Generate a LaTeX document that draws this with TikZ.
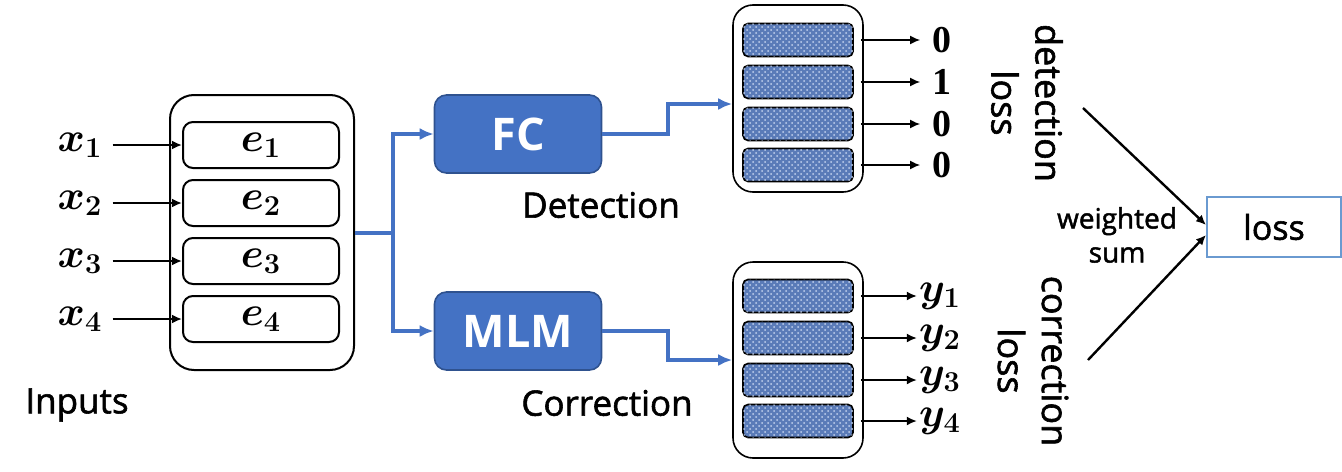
\documentclass[tikz,border=0pt]{standalone}
\usepackage[no-math]{fontspec}
\setmainfont{Open Sans}
\newfontfamily\labelfont{Open Sans}[FakeBold=1.6]
\newfontfamily\bitfont{Liberation Serif}
\usepackage{bm}
\usepackage{tikz}
\usetikzlibrary{calc}
\usetikzlibrary{arrows}
\usetikzlibrary{arrows.meta}
\usetikzlibrary{patterns}
\usepackage{xcolor}
\definecolor{fcblue}{HTML}{4472C4}
\definecolor{fcedge}{HTML}{2F528F}
\definecolor{lossedge}{HTML}{6A9AD0}
\definecolor{cellblue}{HTML}{5A7BB8}
\definecolor{cellpale}{HTML}{C2D2EE}

\begin{document}
\begin{tikzpicture}[x=0.5pt, y=-0.5pt]
  \useasboundingbox (0,0) rectangle (1342,471);

  \tikzstyle{plain} = [font=\fontsize{17.5}{21}\selectfont\labelfont]
  \tikzstyle{mathlabel} = [font=\fontsize{20}{24}\selectfont, inner sep=1pt]
  \tikzstyle{bitlabel} = [font=\fontsize{19}{22}\selectfont\bitfont\bfseries, inner sep=6pt]
  \tikzstyle{outer} = [draw, line width=1pt, rounded corners=12pt]
  \tikzstyle{embed} = [draw, line width=1pt, rounded corners=5pt,
  minimum width=78pt, minimum height=23pt,
  font=\fontsize{20}{24}\selectfont]
  \tikzstyle{cell} = [draw, line width=0.8pt, rounded corners=2.5pt,
  minimum width=55pt, minimum height=16.5pt,
  fill=cellblue, postaction={pattern=crosshatch dots, pattern color=cellpale}]
  \tikzstyle{head} = [draw=fcedge, line width=0.8pt, fill=fcblue, rounded corners=6pt,
  minimum width=83.5pt, minimum height=39pt, text=white,
  font=\fontsize{22.5}{27}\selectfont\bfseries] % FC and MLM
  \tikzstyle{blueline} = [draw=fcblue, line width=2pt]
  \tikzstyle{bluetip} = [-{Latex[length=7pt,width=6pt]}]
  \tikzstyle{blacktip} = [-{Latex[length=5pt,width=4.5pt]}]

% inputs and embeddings
\node[outer, minimum width=92pt, minimum height=137.5pt] (embbox) at (262,232.5) {};
\foreach \i/\yy in {1/145,2/203,3/261,4/319} {
  \node[mathlabel] (x\i) at (80,\yy) {$\bm{x_{\i}}$};
  \node[embed] (e\i) at (261,\yy) {$\bm{e_{\i}}$};
  \draw[blacktip, line width=1pt] ([xshift=4pt]x\i.east) -- (e\i.west);
}
\node[plain] (inputs) at (77,405) {Inputs};

% the two heads
\node[head] (fc) at (518,134) {FC};
\node[head] (mlm) at (518,331) {MLM};
\node[plain] (detlabel) at (601,205) {Detection};
\node[plain] (corlabel) at (607,403) {Correction};

\coordinate (split) at (393,232.5);
\draw[blueline] (embbox.east) -- (split);
\draw[blueline, bluetip] (split) |- (fc.west);
\draw[blueline, bluetip] (split) |- (mlm.west);

% output stacks
\node[outer, line width=0.8pt, rounded corners=10pt, minimum width=65pt, minimum height=93.5pt] (detbox) at (798,98.5) {};
\node[outer, line width=0.8pt, rounded corners=10pt, minimum width=65pt, minimum height=98pt] (corbox) at (798,360) {};

\coordinate (fcbend) at (668,104);
\coordinate (mlmbend) at (668,360);
\draw[blueline, bluetip] (fc.east) -| (fcbend) -- (fcbend -| detbox.west);
\draw[blueline, bluetip] (mlm.east) -| (mlmbend) -- (mlmbend -| corbox.west);

\foreach \i/\yy/\bit in {1/40/0,2/82/1,3/124/0,4/165/0} {
  \node[cell] (d\i) at (798,\yy) {};
  \node[bitlabel] (o\i) at (942,\yy) {\bit};
  \draw[blacktip, line width=0.8pt] ([xshift=3.5pt]d\i.east) -- (d\i.east -| o\i.west);
}
\foreach \i/\yy in {1/296,2/338,3/380,4/421} {
  \node[cell] (c\i) at (798,\yy) {};
  \node[mathlabel] (y\i) at (940,\yy) {$\bm{y_{\i}}$};
  \draw[blacktip, line width=0.8pt] ([xshift=3.5pt]c\i.east) -- (c\i.east -| y\i.west);
}

% losses
\node[plain, font=\fontsize{18}{22}\selectfont\labelfont, align=center, rotate=-90] (detloss) at (1027,103) {detection\\loss};
\node[plain, font=\fontsize{18}{22}\selectfont\labelfont, align=center, rotate=-90] (corloss) at (1033,361) {correction\\loss};
\node[draw=lossedge, line width=1pt, minimum width=67pt, minimum height=30pt,
  font=\fontsize{17}{20}\selectfont\labelfont] (loss) at (1274,227) {loss};
\node[font=\fontsize{14}{17}\selectfont\labelfont, align=center] (wsum) at (1117,235) {weighted\\sum};

\coordinate (dettail) at (1083,108);
\coordinate (cortail) at (1088,360);
\draw[blacktip, line width=1.2pt] (dettail) -- ([yshift=1pt]loss.west);
\draw[blacktip, line width=1.2pt] (cortail) -- ([yshift=-4pt]loss.west);

\end{tikzpicture}
\end{document}
